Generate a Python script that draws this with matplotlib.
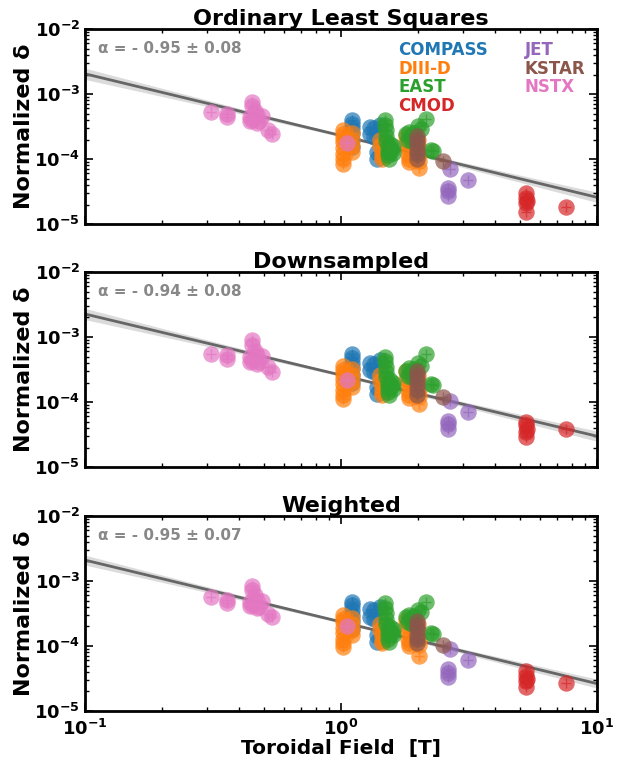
import numpy as np
import matplotlib
matplotlib.use('Agg')
import matplotlib.pyplot as plt
from matplotlib.lines import Line2D
from matplotlib.ticker import FuncFormatter, LogLocator

machines = ['COMPASS', 'DIII-D', 'EAST', 'CMOD', 'JET', 'KSTAR', 'NSTX']
colors = ['#1f77b4', '#ff7f0e', '#2ca02c', '#d62728', '#9467bd', '#8c564b', '#e377c2']

# toroidal field of each shot [T]
bt = {
    'COMPASS': [1.10, 1.10, 1.10, 1.10, 1.10, 1.10, 1.30, 1.30, 1.34, 1.34, 1.38, 1.38, 1.42],
    'DIII-D': [1.02, 1.02, 1.02, 1.02, 1.02, 1.02, 1.02, 1.02, 1.10, 1.10, 1.10, 1.10,
               1.42, 1.42, 1.44, 1.44, 1.45, 1.80, 1.80, 1.82, 1.82, 1.85, 1.85,
               2.00, 2.00, 2.02, 2.02, 2.02],
    'EAST': [1.48, 1.48, 1.50, 1.50, 1.50, 1.52, 1.52, 1.52, 1.54, 1.54, 1.55, 1.56, 1.58,
             1.60, 1.60, 1.80, 1.82, 1.85, 1.88, 1.90, 1.92, 2.00, 2.05, 2.14, 2.25, 2.28],
    'CMOD': [5.30, 5.30, 5.35, 5.30, 5.30, 7.55],
    'JET': [2.66, 2.62, 2.62, 2.62, 3.14],
    'KSTAR': [1.98, 1.98, 1.98, 1.98, 1.98, 1.98, 2.50],
    'NSTX': [0.31, 0.36, 0.36, 0.44, 0.45, 0.45, 0.46, 0.47, 0.45, 0.47, 0.48, 0.49,
             0.44, 0.52, 0.54, 1.06],
}

# normalized delta, ordinary least squares panel
delta_ols = {
    'COMPASS': [4.0e-4, 3.5e-4, 3.0e-4, 2.5e-4, 2.0e-4, 1.55e-4, 3.1e-4, 2.4e-4, 3.0e-4,
                2.2e-4, 1.3e-4, 1.0e-4, 3.4e-4],
    'DIII-D': [2.8e-4, 2.4e-4, 2.1e-4, 1.8e-4, 1.5e-4, 1.2e-4, 1.0e-4, 8.5e-5,
               2.5e-4, 2.0e-4, 1.6e-4, 1.3e-4, 2.0e-4, 1.6e-4, 1.3e-4, 1.1e-4, 1.0e-4,
               2.3e-4, 1.8e-4, 1.5e-4, 1.2e-4, 1.0e-4, 9.0e-5,
               2.0e-4, 1.6e-4, 1.2e-4, 9.5e-5, 7.2e-5],
    'EAST': [4.0e-4, 3.4e-4, 2.8e-4, 2.3e-4, 1.9e-4, 1.6e-4, 1.35e-4, 1.15e-4, 1.0e-4,
             1.3e-4, 1.5e-4, 1.7e-4, 1.4e-4, 1.25e-4, 1.6e-4, 2.4e-4, 2.0e-4, 2.6e-4,
             2.2e-4, 1.9e-4, 2.5e-4, 3.2e-4, 2.9e-4, 4.2e-4, 1.4e-4, 1.35e-4],
    'CMOD': [3.0e-5, 2.5e-5, 2.3e-5, 2.1e-5, 1.55e-5, 1.8e-5],
    'JET': [7.0e-5, 3.6e-5, 3.2e-5, 2.7e-5, 4.7e-5],
    'KSTAR': [2.3e-4, 2.0e-4, 1.7e-4, 1.4e-4, 1.2e-4, 1.0e-4, 9.5e-5],
    'NSTX': [5.3e-4, 4.9e-4, 4.4e-4, 4.5e-4, 7.5e-4, 6.5e-4, 5.5e-4, 4.8e-4, 4.0e-4,
             3.6e-4, 3.8e-4, 4.6e-4, 3.9e-4, 2.8e-4, 2.4e-4, 1.75e-4],
}

# downsampled panel
delta_down = {
    'COMPASS': [5.5e-4, 4.7e-4, 4.0e-4, 3.3e-4, 2.6e-4, 2.0e-4, 4.0e-4, 3.1e-4, 3.9e-4,
                2.9e-4, 1.7e-4, 1.35e-4, 4.4e-4],
    'DIII-D': [3.6e-4, 3.1e-4, 2.7e-4, 2.3e-4, 1.9e-4, 1.55e-4, 1.3e-4, 1.1e-4,
               3.2e-4, 2.6e-4, 2.1e-4, 1.7e-4, 2.6e-4, 2.1e-4, 1.7e-4, 1.45e-4, 1.3e-4,
               3.0e-4, 2.3e-4, 1.95e-4, 1.55e-4, 1.3e-4, 1.15e-4,
               2.6e-4, 2.1e-4, 1.55e-4, 1.25e-4, 9.5e-5],
    'EAST': [5.0e-4, 4.3e-4, 3.5e-4, 2.9e-4, 2.4e-4, 2.0e-4, 1.7e-4, 1.45e-4, 1.3e-4,
             1.65e-4, 1.9e-4, 2.15e-4, 1.75e-4, 1.6e-4, 2.0e-4, 3.0e-4, 2.5e-4, 3.3e-4,
             2.8e-4, 2.4e-4, 3.2e-4, 4.0e-4, 3.6e-4, 5.5e-4, 1.9e-4, 1.8e-4],
    'CMOD': [4.9e-5, 4.4e-5, 3.9e-5, 3.5e-5, 2.9e-5, 3.8e-5],
    'JET': [1.05e-4, 5.2e-5, 4.6e-5, 3.9e-5, 7.0e-5],
    'KSTAR': [3.0e-4, 2.6e-4, 2.2e-4, 1.8e-4, 1.55e-4, 1.3e-4, 1.2e-4],
    'NSTX': [5.5e-4, 5.3e-4, 4.6e-4, 5.0e-4, 9.0e-4, 7.5e-4, 6.2e-4, 5.3e-4, 4.3e-4,
             3.8e-4, 4.1e-4, 5.1e-4, 4.2e-4, 3.5e-4, 2.9e-4, 2.2e-4],
}

# weighted panel
delta_wls = {
    'COMPASS': [4.8e-4, 4.2e-4, 3.6e-4, 3.0e-4, 2.4e-4, 1.85e-4, 3.7e-4, 2.8e-4, 3.6e-4,
                2.6e-4, 1.5e-4, 1.15e-4, 4.0e-4],
    'DIII-D': [3.0e-4, 2.6e-4, 2.3e-4, 1.9e-4, 1.6e-4, 1.3e-4, 1.1e-4, 9.5e-5,
               2.7e-4, 2.2e-4, 1.75e-4, 1.45e-4, 2.2e-4, 1.75e-4, 1.45e-4, 1.2e-4, 1.1e-4,
               2.5e-4, 2.0e-4, 1.65e-4, 1.3e-4, 1.1e-4, 1.0e-4,
               2.2e-4, 1.75e-4, 1.3e-4, 1.05e-4, 7.0e-5],
    'EAST': [4.6e-4, 3.9e-4, 3.2e-4, 2.6e-4, 2.2e-4, 1.85e-4, 1.55e-4, 1.3e-4, 1.15e-4,
             1.5e-4, 1.7e-4, 1.95e-4, 1.6e-4, 1.45e-4, 1.8e-4, 2.8e-4, 2.3e-4, 3.0e-4,
             2.5e-4, 2.2e-4, 2.9e-4, 3.6e-4, 3.3e-4, 4.8e-4, 1.6e-4, 1.55e-4],
    'CMOD': [4.1e-5, 3.5e-5, 3.1e-5, 2.9e-5, 2.3e-5, 2.7e-5],
    'JET': [9.0e-5, 4.4e-5, 3.9e-5, 3.3e-5, 6.0e-5],
    'KSTAR': [2.4e-4, 2.1e-4, 1.8e-4, 1.5e-4, 1.3e-4, 1.1e-4, 1.05e-4],
    'NSTX': [5.6e-4, 5.1e-4, 4.6e-4, 4.8e-4, 8.5e-4, 7.2e-4, 6.0e-4, 5.1e-4, 4.2e-4,
             3.8e-4, 4.0e-4, 4.9e-4, 4.1e-4, 3.1e-4, 2.8e-4, 2.0e-4],
}

titles = ['Ordinary Least Squares', 'Downsampled', 'Weighted']
panels = [delta_ols, delta_down, delta_wls]
# fit results: exponent, its error, amplitude at 1 T
fit_alpha = [-0.95, -0.94, -0.95]
fit_err = [0.08, 0.08, 0.07]
fit_amp = [2.3e-4, 2.6e-4, 2.35e-4]
fit_sig0 = 0.02  # log10 uncertainty of the amplitude

plt.rcParams['font.weight'] = 'bold'
plt.rcParams['mathtext.default'] = 'bf'

fig = plt.figure(figsize=(6.18, 7.57), dpi=100)
bottoms = [0.704, 0.383, 0.0608]

def sci(v, pos):
    return r'$\mathbf{10^{%d}}$' % int(round(np.log10(v)))

for k in range(3):
    ax = fig.add_axes([0.1375, bottoms[k], 0.8285, 0.2576])
    ax.set_xscale('log')
    ax.set_yscale('log')
    ax.set_xlim(0.1, 10)
    ax.set_ylim(1e-5, 1e-2)

    xf = np.logspace(-1, 1, 200)
    lx = np.log10(xf)
    yf = fit_amp[k] * xf ** fit_alpha[k]
    sig = np.sqrt(fit_sig0 ** 2 + (fit_err[k] * (lx - 0.05)) ** 2)
    ax.fill_between(xf, yf / 10 ** sig, yf * 10 ** sig, color='#cccccc', alpha=0.7,
                    lw=0, zorder=1)
    ax.plot(xf, yf, color='#666666', lw=2, zorder=2)

    data = panels[k]
    for m, c in zip(machines, colors):
        ax.scatter(bt[m], data[m], s=140, color=c, alpha=0.7, lw=0, zorder=3)
        ax.plot(bt[m], data[m], '+', color=c, ms=7, mew=1, alpha=0.7, zorder=3)

    ax.text(0.025, 0.9, u'\u03b1 = - %.2f \u00b1 %.2f' % (-fit_alpha[k], fit_err[k]),
            transform=ax.transAxes, color='#888888', fontsize=11, fontweight='bold',
            va='center')

    ax.set_title(titles[k], fontsize=16, fontweight='bold', pad=3)
    ax.set_ylabel(u'Normalized \u03b4', fontsize=16, fontweight='bold', labelpad=0)

    ax.xaxis.set_major_locator(LogLocator(base=10, numticks=10))
    ax.xaxis.set_minor_locator(LogLocator(base=10, subs=np.arange(2, 10), numticks=10))
    ax.yaxis.set_major_locator(LogLocator(base=10, numticks=10))
    ax.yaxis.set_minor_locator(LogLocator(base=10, subs=np.arange(2, 10), numticks=10))
    ax.yaxis.set_major_formatter(FuncFormatter(sci))
    ax.tick_params(which='both', direction='in', top=True, right=True, labelsize=13)
    ax.tick_params(which='major', length=6, width=1.2)
    ax.tick_params(which='minor', length=3, width=1)
    ax.tick_params(axis='x', which='major', pad=6)
    for sp in ax.spines.values():
        sp.set_linewidth(2)

    if k == 2:
        ax.xaxis.set_major_formatter(FuncFormatter(sci))
        ax.set_xlabel('Toroidal Field  [T]', fontsize=14.5, fontweight='bold')
        ax.xaxis.set_label_coords(0.5, -0.142)
    else:
        ax.set_xticklabels([])
        ax.xaxis.set_minor_formatter(FuncFormatter(lambda v, p: ''))

    if k == 0:
        handles = [Line2D([], [], color=c, lw=0) for c in colors]
        leg = ax.legend(handles, machines, ncol=2, loc='upper right', frameon=False,
                        handlelength=0, handletextpad=0, columnspacing=2.2,
                        labelspacing=0.05, borderaxespad=0.3,
                        prop={'weight': 'bold', 'size': 12})
        for t, c in zip(leg.get_texts(), colors):
            t.set_color(c)

fig.savefig('out.png', dpi=100)
